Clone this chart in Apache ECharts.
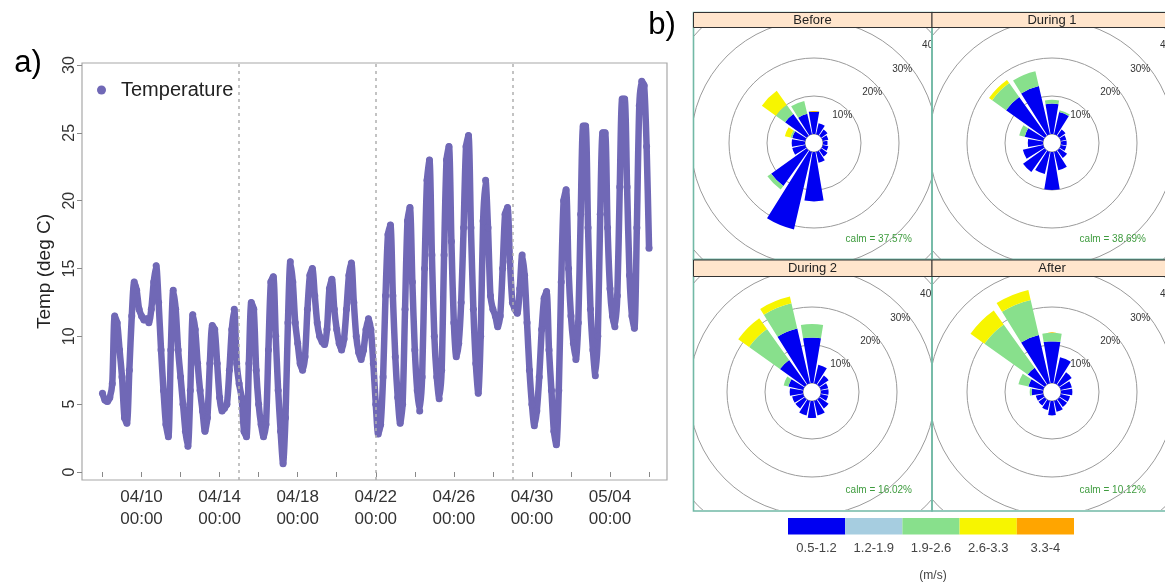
<!DOCTYPE html>
<html><head><meta charset="utf-8">
<script src="https://cdn.jsdelivr.net/npm/echarts@6/dist/echarts.min.js"></script>
<style>
html,body{margin:0;padding:0;background:#fff;}
#main{position:absolute;left:0;top:0;width:1165px;height:588px;}
.rose{position:absolute;overflow:hidden;}
</style></head><body>
<div id="main"></div>
<div id="r0" class="rose" style="left:694px;top:28px;width:237px;height:231px"></div>
<div id="r1" class="rose" style="left:933px;top:28px;width:232px;height:231px"></div>
<div id="r2" class="rose" style="left:694px;top:277px;width:237px;height:233px"></div>
<div id="r3" class="rose" style="left:933px;top:277px;width:232px;height:233px"></div>
<script>
// ---------- panel a) data ----------
const startDay = 98;      // day of year: 04/08 00:00
const stepHours = 3;
const temperature = [
 5.8, 5.3, 5.2, 5.5, 6.5, 11.5, 11.0, 9.0,
 7.0, 4.0, 3.6, 7.5, 11.5, 14.0, 13.4, 12.0,
 11.5, 11.2, 11.3, 11.0, 12.0, 14.0, 15.2, 12.5,
 9.0, 6.0, 3.5, 2.6, 9.0, 13.4, 12.0, 9.0,
 7.0, 5.0, 3.0, 1.9, 6.0, 11.6, 10.5, 8.0,
 6.0, 4.5, 3.0, 4.0, 8.0, 10.8, 10.5, 8.0,
 5.5, 4.5, 4.7, 5.0, 7.5, 10.5, 12.0, 8.0,
 6.5, 5.5, 3.0, 2.6, 8.0, 12.5, 12.0, 7.5,
 5.0, 3.5, 2.6, 3.5, 9.0, 14.0, 14.4, 10.0,
 6.0, 3.0, 0.6, 4.0, 11.0, 15.5, 14.0, 11.0,
 9.5, 8.0, 7.5, 8.5, 12.0, 14.5, 15.0, 13.0,
 11.0, 10.0, 9.6, 9.4, 10.5, 13.5, 14.2, 12.0,
 10.5, 9.5, 9.0, 9.8, 12.0, 14.5, 15.4, 12.5,
 10.0, 8.8, 8.3, 9.0, 10.5, 11.3, 10.5, 8.0,
 5.0, 2.8, 3.5, 7.0, 13.0, 17.5, 18.2, 13.0,
 8.5, 5.5, 3.6, 5.0, 12.0, 18.5, 19.5, 14.0,
 9.0, 6.0, 4.5, 7.0, 15.0, 21.5, 23.0, 16.0,
 10.0, 7.0, 5.4, 7.5, 16.0, 23.0, 24.0, 17.0,
 11.0, 8.5, 9.5, 12.5, 18.0, 24.0, 24.8, 18.0,
 12.0, 8.0, 5.8, 10.0, 18.5, 21.5, 18.0, 13.0,
 12.0, 11.5, 10.7, 11.5, 15.0, 19.0, 19.5, 15.5,
 12.5, 12.0, 11.7, 13.5, 16.0, 14.5, 11.0, 7.5,
 5.0, 3.4, 4.5, 7.0, 10.5, 12.8, 13.3, 9.0,
 6.0, 3.0, 2.0, 6.0, 14.0, 20.0, 20.8, 15.0,
 11.5, 9.5, 8.3, 11.0, 19.0, 25.5, 25.5, 18.0,
 12.0, 9.0, 7.1, 10.0, 19.0, 25.0, 25.0, 18.0,
 13.5, 11.5, 10.7, 13.0, 21.0, 27.5, 27.5, 21.0,
 14.5, 11.5, 10.6, 18.0, 27.0, 28.8, 28.5, 24.0,
 16.5
];
const xTickDays = [98, 100, 102, 104, 106, 108, 110, 112, 114, 116, 118, 120, 122, 124, 126];
const xLabelDays = [100, 104, 108, 112, 116, 120, 124];
const xLabelText = ['04/10\n00:00', '04/14\n00:00', '04/18\n00:00', '04/22\n00:00', '04/26\n00:00', '04/30\n00:00', '05/04\n00:00'];
const periodBreaks = [105, 112, 119];
const yTicks = [0, 5, 10, 15, 20, 25, 30];

// ---------- panel b) data ----------
const directions = ['N','NNE','NE','ENE','E','ESE','SE','SSE','S','SSW','SW','WSW','W','WNW','NW','NNW'];
const speedBins = ['0.5-1.2', '1.2-1.9', '1.9-2.6', '2.6-3.3', '3.3-4'];
const speedColors = ['#0000f2', '#a6cde0', '#88e08c', '#f7f500', '#ffa500'];
const periods = ['Before', 'During 1', 'During 2', 'After'];
const calmText = ['calm = 37.57%', 'calm = 38.69%', 'calm = 16.02%', 'calm = 10.12%'];
const Z = () => new Array(16).fill(0);
// frequency (%) per direction, one row per speed bin
const roseBefore = [
 [6, 3, 2, 1.5, 1.2, 1.5, 2, 3, 13, 21, 11.5, 3.5, 3.5, 3.5, 7, 5.5],
 Z(),
 [0, 0, 0, 0, 0, 0, 0, 0, 0, 0, 1.2, 0, 0, 0.5, 3, 3.5],
 [0, 0, 0, 0, 0, 0, 0, 0, 0, 0, 0, 0, 0, 1.5, 4.5, 0],
 Z()
];
const roseDuring1 = [
 [8, 6, 2, 1.5, 1.5, 1.5, 2.5, 5, 10, 6, 7, 5.5, 4, 5, 12.5, 13],
 Z(),
 [1, 0.5, 0, 0, 0, 0, 0, 0, 0, 0, 0, 0, 0, 1.5, 4.5, 4],
 [0, 0, 0, 0, 0, 0, 0, 0, 0, 0, 0, 0, 0, 0, 1.0, 0],
 Z()
];
const roseDuring2 = [
 [12, 5, 3, 2, 2, 2, 3, 4, 4.5, 4, 3, 3, 3.5, 4, 8, 14.8],
 Z(),
 [3.5, 0, 0, 0, 0, 0, 0, 0, 0, 0, 0, 0, 0, 1.3, 10, 6.8],
 [0, 0, 0, 0, 0, 0, 0, 0, 0, 0, 0, 0, 0, 0, 3.5, 1.8],
 Z()
];
const roseAfter = [
 [11, 7, 4, 3, 3, 2.5, 2.5, 3, 3.8, 2.5, 2, 2, 3, 4, 5.5, 13],
 Z(),
 [2.2, 0, 0, 0, 0, 0, 0, 0, 0, 0, 0, 0, 0.5, 2.7, 14, 9.5],
 [0, 0, 0, 0, 0, 0, 0, 0, 0, 0, 0, 0, 0, 0, 4.5, 2.7],
 Z()
];
const roses = [roseBefore, roseDuring1, roseDuring2, roseAfter];

// ---------- panel a) chart ----------
const FONT = 'Liberation Sans, Arial, Helvetica, sans-serif';
const PURPLE = '#7068b6';
const TEAL = '#72b9a6';
const seriesData = temperature.map((v, i) => [startDay + i * stepHours / 24, v]);

const stripBoxes = [[693.5, 12.5, 238.5, 15], [932, 12.5, 240, 15], [693.5, 260, 238.5, 16.5], [932, 260, 240, 16.5]];
const frameBoxes = [[693.5, 12.5, 238.5, 247], [932, 12.5, 240, 247], [693.5, 259.5, 238.5, 251.5], [932, 259.5, 240, 251.5]];

const graphics = [];
frameBoxes.forEach(b => graphics.push({type: 'rect', shape: {x: b[0], y: b[1], width: b[2], height: b[3]},
  style: {fill: 'none', stroke: TEAL, lineWidth: 1.6}, z: 1}));
stripBoxes.forEach((b, i) => {
  graphics.push({type: 'rect', shape: {x: b[0], y: b[1], width: b[2], height: b[3]},
    style: {fill: '#ffe5cc', stroke: '#333', lineWidth: 1}, z: 2});
  graphics.push({type: 'text', x: b[0] + (i % 2 ? 120 : 119), y: b[1] + b[3] / 2 + 0.5,
    style: {text: periods[i], font: '13px ' + FONT, fill: '#222', textAlign: 'center', textVerticalAlign: 'middle'}, z: 3});
});
graphics.push({type: 'text', x: 28, y: 63, style: {text: 'a)', font: '31px ' + FONT, fill: '#000', textAlign: 'center', textVerticalAlign: 'middle'}});
graphics.push({type: 'text', x: 662, y: 25, style: {text: 'b)', font: '31px ' + FONT, fill: '#000', textAlign: 'center', textVerticalAlign: 'middle'}});
// colour key
const keyX = 788, keyY = 518, keyW = 57.2, keyH = 16.5;
speedBins.forEach((b, k) => {
  graphics.push({type: 'rect', shape: {x: keyX + k * keyW, y: keyY, width: keyW, height: keyH},
    style: {fill: speedColors[k]}, z: 2});
  graphics.push({type: 'text', x: keyX + (k + 0.5) * keyW, y: 548,
    style: {text: b, font: '13px ' + FONT, fill: '#444', textAlign: 'center', textVerticalAlign: 'middle'}});
});
graphics.push({type: 'text', x: 933, y: 576, style: {text: '(m/s)', font: '12px ' + FONT, fill: '#444', textAlign: 'center', textVerticalAlign: 'middle'}});

const main = echarts.init(document.getElementById('main'), null, {renderer: 'canvas'});
main.setOption({
  animation: false,
  textStyle: {fontFamily: FONT},
  grid: {left: 82, top: 63, width: 585, height: 417, show: true, borderColor: '#a8a8a8', borderWidth: 1.2, backgroundColor: 'transparent'},
  legend: {
    data: ['Temperature'], left: 97, top: 80, padding: 0, icon: 'circle', itemWidth: 9, itemHeight: 9,
    textStyle: {fontSize: 20, color: '#222', padding: [0, 0, 0, 10]}
  },
  xAxis: {
    type: 'value', min: 96.95, max: 126.92,
    axisLine: {show: false},
    axisTick: {show: true, customValues: xTickDays, length: 5, lineStyle: {color: '#888'}},
    axisLabel: {customValues: xLabelDays, formatter: v => xLabelText[xLabelDays.indexOf(Math.round(v))] || '',
      fontSize: 17, color: '#333', lineHeight: 22, margin: 6},
    splitLine: {show: false}
  },
  yAxis: {
    type: 'value', min: -0.59, max: 30.15,
    name: 'Temp (deg C)', nameLocation: 'middle', nameGap: 25, nameRotate: 90,
    nameTextStyle: {fontSize: 19, color: '#222'},
    axisLine: {show: false},
    axisTick: {show: true, customValues: yTicks, length: 5, lineStyle: {color: '#888'}},
    axisLabel: {customValues: yTicks, rotate: 90, fontSize: 16, color: '#333', margin: 4},
    splitLine: {show: false}
  },
  series: [{
    name: 'Temperature', type: 'line', data: seriesData, smooth: 0.25,
    symbol: 'circle', symbolSize: 7, showAllSymbol: true,
    lineStyle: {width: 6.5, color: PURPLE}, itemStyle: {color: PURPLE},
    markLine: {silent: true, symbol: 'none', label: {show: false},
      lineStyle: {type: [3, 4], color: '#b0b0b0', width: 1.5},
      data: periodBreaks.map(d => ({xAxis: d}))}
  }],
  graphic: graphics
});

// ---------- panel b) wind roses ----------
const roseCenters = [[120, 115], [119, 115], [118, 115], [119, 115]];
roses.forEach((rose, i) => {
  const chart = echarts.init(document.getElementById('r' + i), null, {renderer: 'canvas'});
  const c = roseCenters[i];
  chart.setOption({
    animation: false,
    textStyle: {fontFamily: FONT},
    polar: [{center: c, radius: [9, 161]}, {center: c, radius: [9, 161]}],
    angleAxis: [
      {polarIndex: 0, type: 'category', data: directions, startAngle: 101.25, clockwise: true,
        axisLine: {show: false}, axisTick: {show: false}, axisLabel: {show: false}, splitLine: {show: false}},
      {polarIndex: 1, type: 'value', min: 0, max: 360, startAngle: 38, show: false}
    ],
    radiusAxis: [
      {polarIndex: 0, type: 'value', min: 0, max: 40, interval: 10,
        axisLine: {show: false}, axisTick: {show: false}, axisLabel: {show: false},
        splitLine: {show: true, showMinLine: false, lineStyle: {color: '#9a9a9a', width: 1}}},
      {polarIndex: 1, type: 'value', min: 0, max: 40, interval: 10,
        axisLine: {show: false}, axisTick: {show: false}, splitLine: {show: false},
        axisLabel: {formatter: '{value}%', showMinLabel: false, fontSize: 10, color: '#333', margin: -2}}
    ],
    title: {text: calmText[i], right: 19, bottom: 15, padding: 0,
      textStyle: {fontSize: 10, color: '#3f9c3f', fontWeight: 'normal', fontFamily: FONT}},
    series: speedBins.map((b, k) => ({
      name: b, type: 'bar', coordinateSystem: 'polar', polarIndex: 0, stack: 'ws',
      data: rose[k], barCategoryGap: '16%', itemStyle: {color: speedColors[k]}
    }))
  });
});
</script>
</body></html>
